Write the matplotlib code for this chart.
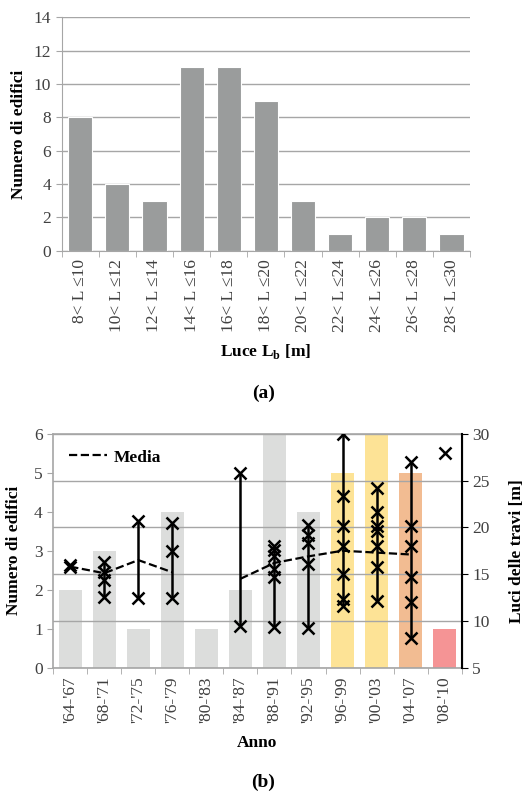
import numpy as np
import matplotlib.pyplot as plt

plt.rcParams['font.family'] = ['Liberation Serif', 'DejaVu Serif']

# (a) distribuzione luci
luce_labels = ['8< L ≤10', '10< L ≤12', '12< L ≤14', '14< L ≤16', '16< L ≤18',
               '18< L ≤20', '20< L ≤22', '22< L ≤24', '24< L ≤26', '26< L ≤28',
               '28< L ≤30']
luce_count = [8, 4, 3, 11, 11, 9, 3, 1, 2, 2, 1]

# (b) edifici per anno e luci delle travi
anni = ["'64-'67", "'68-'71", "'72-'75", "'76-'79", "'80-'83", "'84-'87",
        "'88-'91", "'92-'95", "'96-'99", "'00-'03", "'04-'07", "'08-'10"]
edifici = [2, 3, 1, 4, 1, 2, 6, 4, 5, 6, 5, 1]
bar_colors = ['#dcdddc'] * 8 + ['#fde396', '#fde396', '#f2bc92', '#f59495']
luci = [
    [15.8, 16.0],
    [16.3, 15.2, 14.4, 12.6],
    [20.7, 12.4],
    [20.5, 17.5, 12.5],
    [],
    [25.8, 9.5],
    [18.0, 17.6, 16.9, 15.6, 14.7, 9.3],
    [20.2, 19.2, 18.3, 16.1, 9.2],
    [30.0, 23.4, 20.1, 18.0, 15.0, 12.3, 11.6],
    [24.2, 21.6, 20.1, 19.6, 18.0, 15.8, 12.1],
    [27.0, 20.1, 18.0, 14.7, 12.0, 8.2],
    [27.9],
]
media = [15.8, 15.1, 16.5, 15.2, np.nan, 14.5, 16.2, 16.9, 17.5, 17.3, 17.1, np.nan]

fig = plt.figure(figsize=(5.27, 7.93), dpi=100)
grid_c = '#a6a6a6'
txt_c = '#404040'
tick_fs = 12.5
lab_fs = 12.5

# ---- chart (a)
ax = fig.add_axes([0.117, 0.684, 0.775, 0.294])
xa = np.arange(len(luce_count))
ax.bar(xa, luce_count, width=0.65, color='#9a9c9c', edgecolor='white', linewidth=0.8, zorder=2)
ax.set_xlim(-0.5, len(luce_count) - 0.5)
ax.set_ylim(0, 14)
ax.set_yticks(range(0, 15, 2))
ax.yaxis.grid(True, color=grid_c, lw=1, zorder=0)
ax.set_axisbelow(True)
ax.set_xticks(xa)
ax.set_xticklabels(luce_labels, rotation=90, fontsize=tick_fs, color=txt_c)
ax.set_xticks(np.arange(-0.5, len(luce_count)), minor=True)
ax.tick_params(axis='x', which='major', length=0, pad=6)
ax.tick_params(axis='x', which='minor', length=4, color=grid_c)
ax.tick_params(axis='y', length=4, color=grid_c, labelsize=tick_fs, labelcolor=txt_c)
for s in ['top', 'right']:
    ax.spines[s].set_visible(False)
for s in ['left', 'bottom']:
    ax.spines[s].set_color(grid_c)
ax.set_ylabel('Numero di edifici', fontsize=lab_fs, fontweight='bold', labelpad=5)
ax.set_xlabel('Luce L$_\\mathregular{b}$ [m]', fontsize=lab_fs, fontweight='bold', labelpad=7)
fig.text(0.5, 0.504, '(a)', ha='center', va='center', fontsize=14, fontweight='bold')

# ---- chart (b)
bx = fig.add_axes([0.101, 0.158, 0.775, 0.295])
xb = np.arange(len(edifici))
bx.bar(xb, edifici, width=0.67, color=bar_colors, zorder=1)
bx.set_xlim(-0.5, len(edifici) - 0.5)
bx.set_ylim(0, 6)
bx.set_yticks(range(0, 7))
bx.set_xticks(xb)
bx.set_xticklabels(anni, rotation=90, fontsize=tick_fs, color=txt_c)
bx.set_xticks(np.arange(-0.5, len(edifici)), minor=True)
bx.tick_params(axis='x', which='major', length=0, pad=6)
bx.tick_params(axis='x', which='minor', length=4, color=grid_c)
bx.tick_params(axis='y', length=4, color=grid_c, labelsize=tick_fs, labelcolor=txt_c)
for s in ['top', 'left', 'bottom']:
    bx.spines[s].set_color(grid_c)
    bx.spines[s].set_linewidth(1.2)
bx.set_ylabel('Numero di edifici', fontsize=lab_fs, fontweight='bold', labelpad=9)
bx.set_xlabel('Anno', fontsize=lab_fs, fontweight='bold', labelpad=9)

bx2 = bx.twinx()
bx2.set_ylim(5, 30)
bx2.set_yticks(range(5, 31, 5))
bx2.yaxis.grid(True, color=grid_c, lw=1)
bx2.tick_params(axis='y', length=4, color='black', labelsize=tick_fs, labelcolor=txt_c)
bx2.spines['right'].set_color('black')
bx2.spines['right'].set_linewidth(1.5)
for s in ['top', 'left', 'bottom']:
    bx2.spines[s].set_visible(False)
bx2.set_ylabel('Luci delle travi [m]', fontsize=lab_fs, fontweight='bold', labelpad=14)

for i, vals in enumerate(luci):
    if len(vals) == 0:
        continue
    if len(vals) > 1:
        bx2.vlines(i, min(vals), max(vals), color='black', lw=1.8, zorder=3)
    bx2.plot([i] * len(vals), vals, 'x', color='black', ms=8, mew=1.8, zorder=4)

bx2.plot(xb, media, '--', color='black', lw=1.6, zorder=5, label='Media')
leg = bx2.legend(loc='upper left', frameon=False, fontsize=lab_fs, handlelength=2.2,
                 handletextpad=0.4, borderaxespad=0.5)
for t in leg.get_texts():
    t.set_fontweight('bold')

fig.text(0.5, 0.013, '(b)', ha='center', va='center', fontsize=14, fontweight='bold')

fig.savefig('out.png', dpi=100)
